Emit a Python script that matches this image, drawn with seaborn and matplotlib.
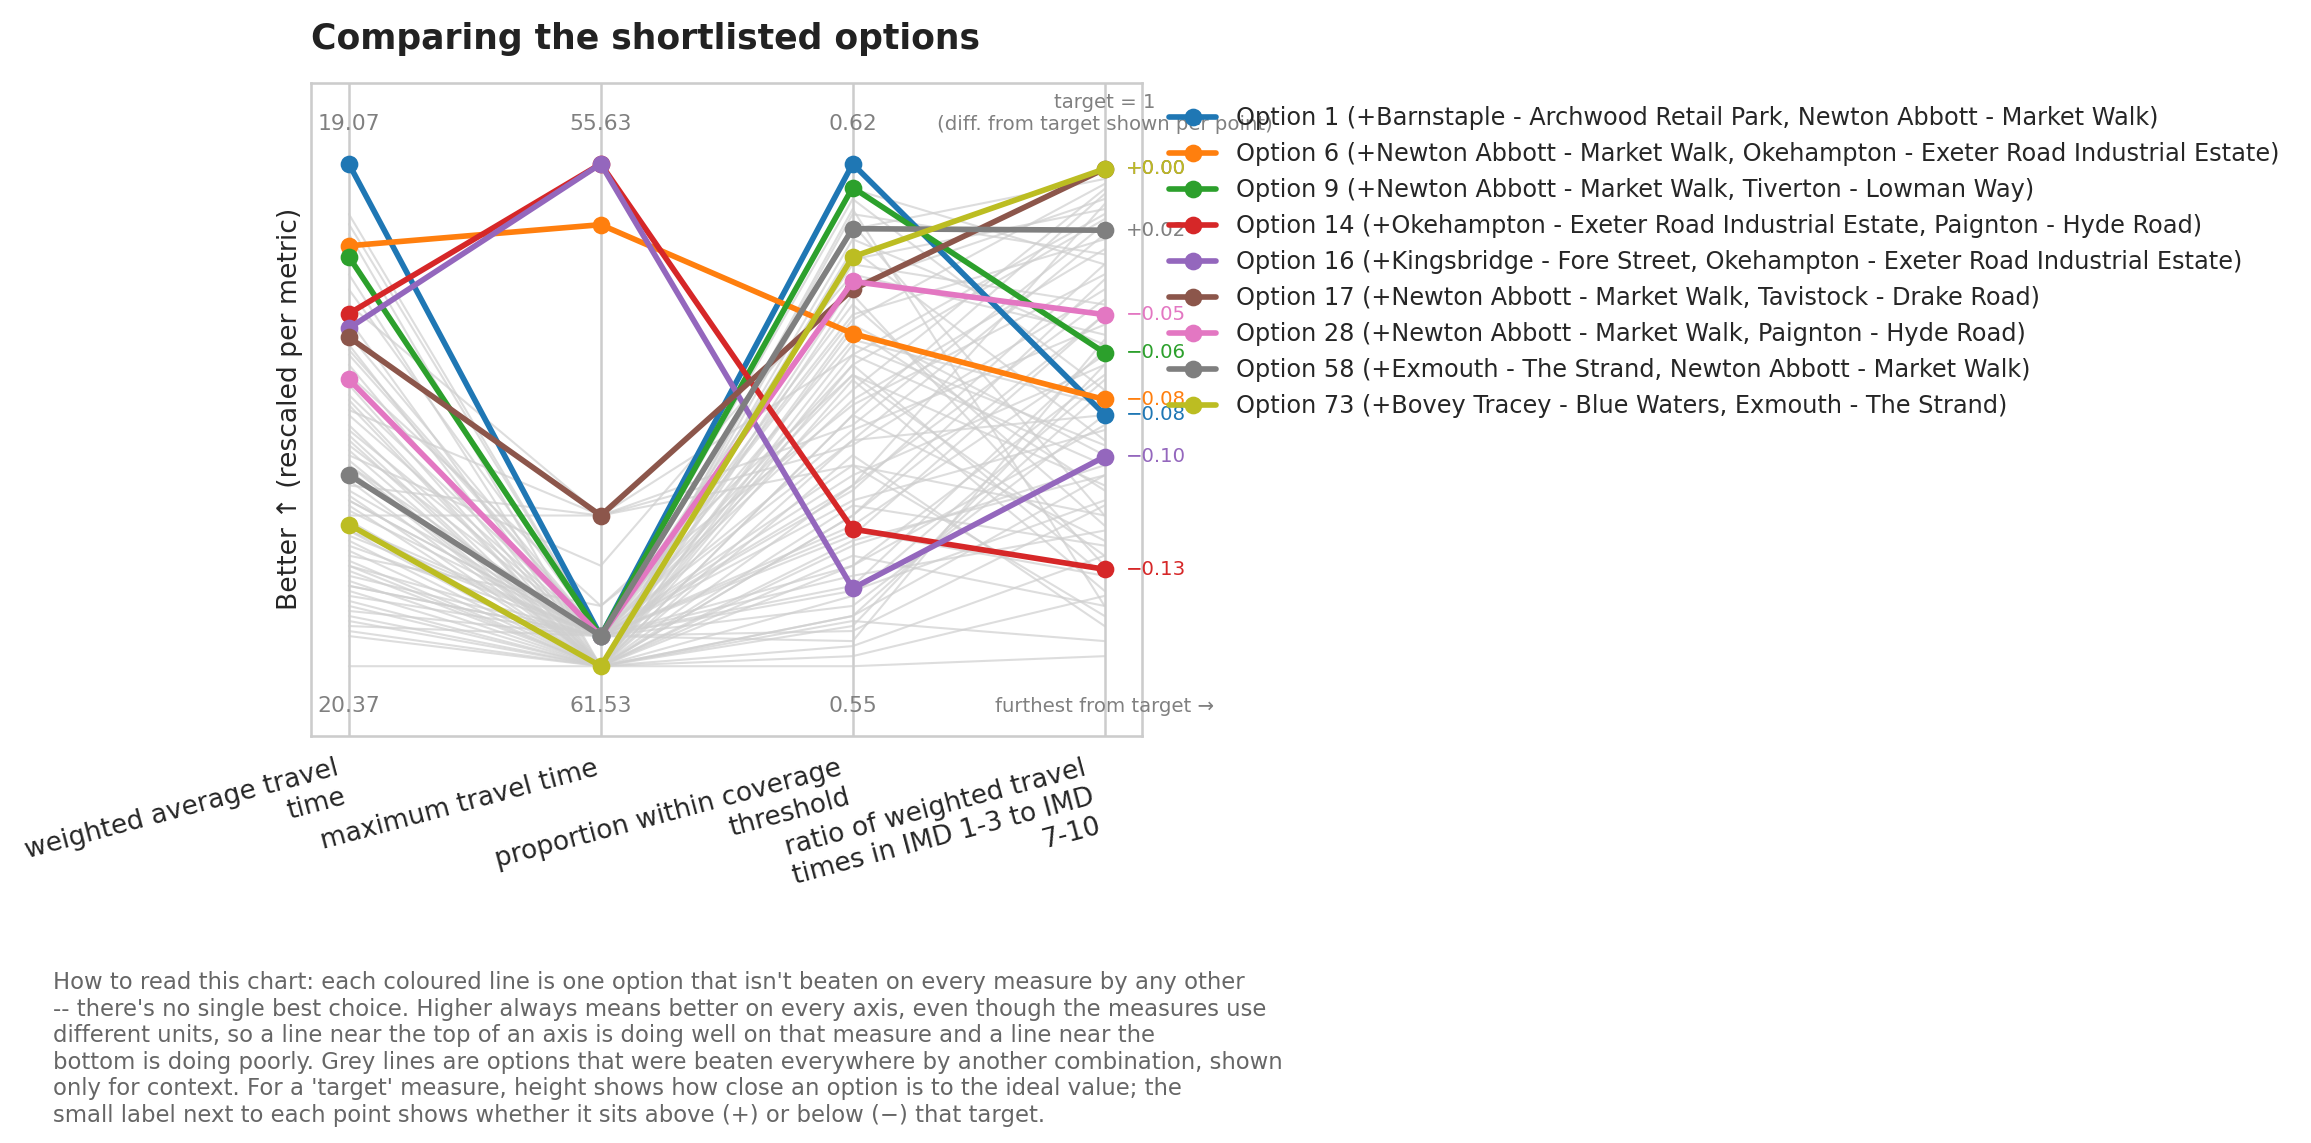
import numpy as np
import pandas as pd
import seaborn as sns
import matplotlib.pyplot as plt

# axes of the parallel-coordinates chart
metrics = ["weighted average travel\ntime",
           "maximum travel time",
           "proportion within coverage\nthreshold",
           "ratio of weighted travel\ntimes in IMD 1-3 to IMD\n7-10"]
best_labels = ["19.07", "55.63", "0.62"]
worst_labels = ["20.37", "61.53", "0.55"]

# shortlisted (non-dominated) options, scores rescaled 0..1 per metric
options = [
    "Option 1 (+Barnstaple - Archwood Retail Park, Newton Abbott - Market Walk)",
    "Option 6 (+Newton Abbott - Market Walk, Okehampton - Exeter Road Industrial Estate)",
    "Option 9 (+Newton Abbott - Market Walk, Tiverton - Lowman Way)",
    "Option 14 (+Okehampton - Exeter Road Industrial Estate, Paignton - Hyde Road)",
    "Option 16 (+Kingsbridge - Fore Street, Okehampton - Exeter Road Industrial Estate)",
    "Option 17 (+Newton Abbott - Market Walk, Tavistock - Drake Road)",
    "Option 28 (+Newton Abbott - Market Walk, Paignton - Hyde Road)",
    "Option 58 (+Exmouth - The Strand, Newton Abbott - Market Walk)",
    "Option 73 (+Bovey Tracey - Blue Waters, Exmouth - The Strand)",
]
option_scores = [
    [1.000, 0.060, 1.000, 0.501],
    [0.837, 0.879, 0.662, 0.531],
    [0.815, 0.060, 0.953, 0.624],
    [0.702, 1.000, 0.273, 0.193],
    [0.673, 1.000, 0.155, 0.417],
    [0.655, 0.300, 0.750, 0.990],
    [0.571, 0.060, 0.766, 0.700],
    [0.381, 0.060, 0.871, 0.868],
    [0.282, 0.000, 0.815, 0.990],
]
target_diffs = ["\u22120.08", "\u22120.08", "\u22120.06", "\u22120.13", "\u22120.10",
                "+0.00", "\u22120.05", "+0.02", "+0.00"]

# dominated options (grey context lines)
dominated_scores = [
    [0.90, 0.06, 0.93, 0.55], [0.86, 0.00, 0.88, 0.30], [0.82, 0.06, 0.80, 0.72],
    [0.78, 0.00, 0.91, 0.12], [0.75, 0.06, 0.70, 0.85], [0.72, 0.30, 0.62, 0.40],
    [0.69, 0.00, 0.85, 0.64], [0.66, 0.06, 0.58, 0.22], [0.64, 0.00, 0.76, 0.93],
    [0.62, 0.06, 0.45, 0.50], [0.60, 0.00, 0.67, 0.35], [0.58, 0.12, 0.52, 0.78],
    [0.56, 0.00, 0.83, 0.45], [0.54, 0.06, 0.38, 0.60], [0.53, 0.00, 0.60, 0.18],
    [0.51, 0.30, 0.48, 0.88], [0.50, 0.06, 0.72, 0.28], [0.48, 0.00, 0.30, 0.70],
    [0.47, 0.06, 0.55, 0.95], [0.46, 0.00, 0.42, 0.08], [0.44, 0.06, 0.65, 0.52],
    [0.43, 0.00, 0.25, 0.38], [0.42, 0.20, 0.78, 0.66], [0.41, 0.00, 0.50, 0.25],
    [0.40, 0.06, 0.35, 0.80], [0.39, 0.00, 0.68, 0.42], [0.38, 0.06, 0.20, 0.58],
    [0.37, 0.00, 0.57, 0.15], [0.36, 0.30, 0.44, 0.75], [0.35, 0.06, 0.15, 0.33],
    [0.34, 0.00, 0.62, 0.90], [0.33, 0.06, 0.33, 0.47], [0.32, 0.00, 0.74, 0.20],
    [0.31, 0.06, 0.28, 0.62], [0.30, 0.30, 0.40, 0.30], [0.29, 0.00, 0.10, 0.55],
    [0.28, 0.06, 0.53, 0.83], [0.27, 0.00, 0.22, 0.12], [0.26, 0.06, 0.47, 0.68],
    [0.25, 0.00, 0.64, 0.44], [0.24, 0.06, 0.18, 0.27], [0.23, 0.00, 0.36, 0.73],
    [0.22, 0.12, 0.58, 0.36], [0.21, 0.00, 0.08, 0.60], [0.20, 0.06, 0.27, 0.18],
    [0.19, 0.00, 0.45, 0.86], [0.18, 0.06, 0.12, 0.50], [0.17, 0.00, 0.32, 0.24],
    [0.16, 0.06, 0.05, 0.65], [0.15, 0.00, 0.24, 0.40], [0.14, 0.06, 0.40, 0.10],
    [0.13, 0.00, 0.14, 0.57], [0.12, 0.00, 0.30, 0.77], [0.11, 0.06, 0.07, 0.32],
    [0.10, 0.00, 0.20, 0.48], [0.09, 0.00, 0.04, 0.22], [0.08, 0.06, 0.16, 0.63],
    [0.07, 0.00, 0.10, 0.38], [0.06, 0.00, 0.02, 0.14], [0.00, 0.00, 0.00, 0.02],
    [0.88, 0.06, 0.95, 0.80], [0.57, 0.06, 0.87, 0.97], [0.45, 0.00, 0.81, 0.91],
    [0.33, 0.06, 0.69, 0.96], [0.27, 0.06, 0.60, 0.89], [0.20, 0.00, 0.50, 0.94],
    [0.52, 0.00, 0.90, 0.82], [0.16, 0.06, 0.36, 0.92], [0.40, 0.00, 0.09, 0.05],
    [0.63, 0.06, 0.26, 0.70],
]

footnote = ("How to read this chart: each coloured line is one option that isn't beaten on every measure by any other\n"
            "-- there's no single best choice. Higher always means better on every axis, even though the measures use\n"
            "different units, so a line near the top of an axis is doing well on that measure and a line near the\n"
            "bottom is doing poorly. Grey lines are options that were beaten everywhere by another combination, shown\n"
            "only for context. For a 'target' measure, height shows how close an option is to the ideal value; the\n"
            "small label next to each point shows whether it sits above (+) or below (\u2212) that target.")


def to_long(scores, names):
    rows = []
    for name, vals in zip(names, scores):
        for i, v in enumerate(vals):
            rows.append({'option': name, 'axis': i, 'score': v})
    return pd.DataFrame(rows)


if __name__ == '__main__':
    sns.set_theme(style='whitegrid')

    grey_df = to_long(dominated_scores, ['d{0}'.format(i) for i in range(len(dominated_scores))])
    hl_df = to_long(option_scores, options)
    palette = sns.color_palette('tab10', len(options))

    fig = plt.figure(figsize=(15.41, 7.62), dpi=150)
    ax = fig.add_axes([0.1346, 0.3565, 0.3596, 0.5713])

    sns.lineplot(data=grey_df, x='axis', y='score', units='option', estimator=None,
                 color='#cfcfcf', alpha=0.7, linewidth=1, legend=False, ax=ax)
    sns.lineplot(data=hl_df, x='axis', y='score', hue='option', hue_order=options,
                 palette=palette, errorbar=None, linewidth=2.7, marker='o',
                 markersize=8.5, markeredgewidth=0, ax=ax)

    # axis end labels
    for i in range(3):
        ax.text(i, 1.08, best_labels[i], ha='center', va='center', color='grey', fontsize=10.5)
        ax.text(i, -0.08, worst_labels[i], ha='center', va='center', color='grey', fontsize=10.5)
    ax.text(3, 1.10, 'target = 1\n(diff. from target shown per point)', ha='center',
            va='center', color='grey', fontsize=9.5)
    ax.text(3, -0.08, 'furthest from target \u2192', ha='center', va='center',
            color='grey', fontsize=9.5)

    # diff-from-target labels
    for vals, lab, col in zip(option_scores, target_diffs, palette):
        ax.text(3.085, vals[3], lab, ha='left', va='center', color=col, fontsize=9.5)

    ax.set_xlim(-0.15, 3.15)
    ax.set_ylim(-0.138, 1.162)
    ax.set_xticks(range(len(metrics)))
    ax.set_xticklabels(metrics, rotation=15, ha='right', fontsize=12.7)
    ax.set_yticks([])
    ax.grid(axis='y', visible=False)
    ax.grid(axis='x', color='#cccccc', linewidth=1.2)
    ax.set_xlabel('')
    ax.set_ylabel('Better \u2191 (rescaled per metric)', fontsize=12.8)
    ax.set_title('Comparing the shortlisted options', loc='left', fontsize=16.6,
                 fontweight='bold', pad=16, color='#222222')

    sns.move_legend(ax, 'upper left', bbox_to_anchor=(1.02, 0.978), frameon=False,
                    title=None, fontsize=11.5, borderaxespad=0)

    fig.text(0.023, 0.014, footnote, ha='left', va='bottom', color='#666666',
             fontsize=10.9, linespacing=1.2)

    plt.savefig('out.png', dpi=150)
